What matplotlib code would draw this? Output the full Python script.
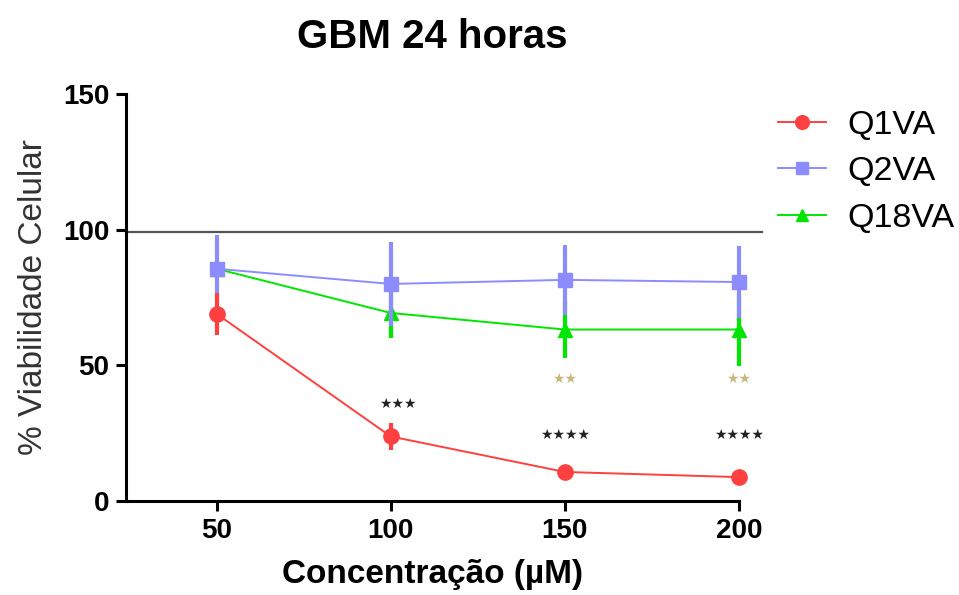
import matplotlib
matplotlib.use("Agg")
import matplotlib.pyplot as plt

plt.rcParams['font.family'] = ['Liberation Sans', 'DejaVu Sans']

# concentrations (uM)
conc = [50, 100, 150, 200]

# % viability, mean and error
q1va = [69.0, 23.8, 10.7, 8.8]
q1va_err = [7.7, 5.0, 0, 0]
q2va = [85.6, 80.0, 81.5, 80.7]
q2va_err = [12.5, 15.5, 12.8, 13.3]
q18va = [85.6, 69.3, 63.2, 63.2]
q18va_err = [0, 9.3, 10.5, 13.3]

control = 99.2

# significance marks: (x, y, text, colour)
stars_x = [102, 150, 200, 150, 200]
stars_y = [35.8, 24.5, 24.5, 45.0, 45.0]
stars_txt = ['★★★', '★★★★', '★★★★', '★★', '★★']
stars_col = ['#222222', '#222222', '#222222', '#c8b880', '#c8b880']

red = '#ff4040'
blue = '#8c8cff'
green = '#00e600'

fig = plt.figure(figsize=(9.59, 5.95), dpi=100)
ax = fig.add_axes([126 / 959, 1 - 501 / 595, 613 / 959, 407 / 595])

# control line
ax.plot([24, 206.6], [control, control], color='#555555', lw=1.6, clip_on=False, zorder=1)

# green first, then blue, red on top
h3 = ax.errorbar(conc, q18va, yerr=q18va_err, color=green, marker='^', ms=10, lw=1.4,
                 elinewidth=3, capsize=0, clip_on=False, zorder=3)
h2 = ax.errorbar(conc, q2va, yerr=q2va_err, color=blue, marker='s', ms=10, lw=1.4,
                 elinewidth=3, capsize=0, clip_on=False, zorder=4)
h1 = ax.errorbar(conc, q1va, yerr=q1va_err, color=red, marker='o', ms=11, lw=1.4,
                 elinewidth=3, capsize=0, clip_on=False, zorder=5)

for x, y, t, c in zip(stars_x, stars_y, stars_txt, stars_col):
    ax.text(x, y, t, color=c, fontsize=10, ha='center', va='center',
            family=['DejaVu Sans'])

ax.set_xlim(24, 200)
ax.set_ylim(0, 150)
ax.set_xticks(conc)
ax.set_yticks([0, 50, 100, 150])

for s in ['top', 'right']:
    ax.spines[s].set_visible(False)
for s in ['left', 'bottom']:
    ax.spines[s].set_linewidth(2.2)
ax.spines['bottom'].set_bounds(24, 200)
ax.tick_params(direction='out', length=7, width=2.2, labelsize=20, pad=5)
for lab in ax.get_xticklabels() + ax.get_yticklabels():
    lab.set_fontweight('bold')

ax.set_xlabel('Concentração (µM)', fontsize=24, fontweight='bold', labelpad=11)
ax.set_ylabel('% Viabilidade Celular', fontsize=24, color='#333333', labelpad=10)
ax.set_title('GBM 24 horas', fontsize=29, fontweight='bold', pad=33)

leg = fig.legend([h1[0], h2[0], h3[0]], ['Q1VA', 'Q2VA', 'Q18VA'],
                 loc='upper left', bbox_to_anchor=(778 / 959, 1 - 110 / 595),
                 frameon=False, fontsize=24.5, handlelength=1.4, handletextpad=0.65,
                 labelspacing=0.45, borderpad=0, borderaxespad=0, markerscale=0.9)

fig.savefig('out.png', dpi=100)
